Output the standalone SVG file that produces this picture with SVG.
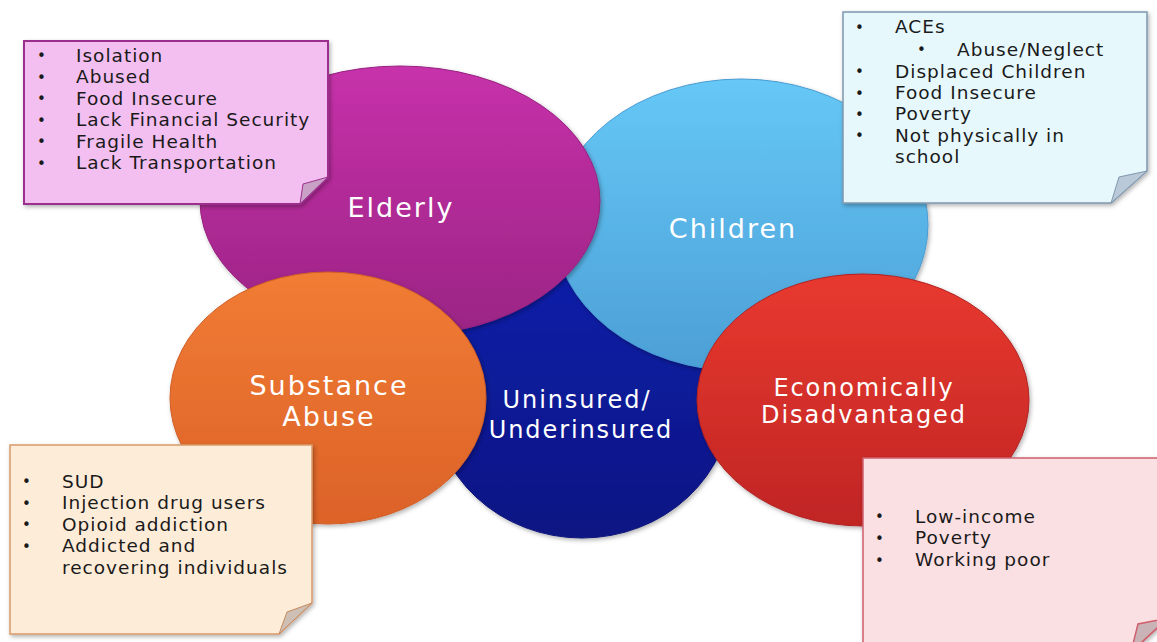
<svg xmlns="http://www.w3.org/2000/svg" width="1157" height="642" viewBox="0 0 1157 642">
<defs>
  <linearGradient id="gNavy" x1="0" y1="0" x2="0" y2="1">
    <stop offset="0" stop-color="#0e1eaa"/><stop offset="1" stop-color="#0a1682"/>
  </linearGradient>
  <linearGradient id="gChild" x1="0" y1="0" x2="0" y2="1">
    <stop offset="0" stop-color="#66c8f6"/><stop offset="1" stop-color="#4c9fd6"/>
  </linearGradient>
  <linearGradient id="gElder" x1="0" y1="0" x2="0" y2="1">
    <stop offset="0" stop-color="#c731aa"/><stop offset="1" stop-color="#9a2484"/>
  </linearGradient>
  <linearGradient id="gOrange" x1="0" y1="0" x2="0" y2="1">
    <stop offset="0" stop-color="#f17c34"/><stop offset="1" stop-color="#dc6228"/>
  </linearGradient>
  <linearGradient id="gRed" x1="0" y1="0" x2="0" y2="1">
    <stop offset="0" stop-color="#e8392f"/><stop offset="1" stop-color="#c02524"/>
  </linearGradient>
  <filter id="shadow" x="-10%" y="-10%" width="125%" height="125%">
    <feDropShadow dx="1.5" dy="2" stdDeviation="2" flood-color="#000" flood-opacity="0.3"/>
  </filter>
</defs>
<style>
  .lbl { font-family: "DejaVu Sans", Verdana, sans-serif; fill: #ffffff; text-anchor: middle; }
  .big { font-size: 27px; letter-spacing: 2px; }
  .mid { font-size: 24px; letter-spacing: 1.9px; }
  .note text { font-family: "DejaVu Sans", Verdana, sans-serif; font-size: 18.5px; letter-spacing: 1px; fill: #1a1a1a; }
  .note text.b { font-size: 15px; letter-spacing: 0; }
  .blob { stroke-width: 1; }
</style>
<rect width="1157" height="642" fill="#ffffff"/>
<g id="connectors"></g>
<g id="uninsured">
  <ellipse class="blob" cx="582" cy="398" rx="150" ry="140" fill="url(#gNavy)" stroke="#0a137a" filter="url(#shadow)"/>
</g>
<g id="children">
  <ellipse class="blob" cx="741" cy="225" rx="187" ry="146" fill="url(#gChild)" stroke="#4a9cd2" filter="url(#shadow)"/>
  <text class="lbl big" x="733" y="238">Children</text>
</g>
<g id="elderly">
  <ellipse class="blob" cx="400" cy="201" rx="200" ry="135" fill="url(#gElder)" stroke="#96237f" filter="url(#shadow)"/>
  <text class="lbl big" x="401" y="217">Elderly</text>
</g>
<g id="uninsured-label">
  <text class="lbl mid" x="577" y="408">Uninsured/</text>
  <text class="lbl mid" x="581" y="438">Underinsured</text>
</g>
<g id="substance">
  <ellipse class="blob" cx="328" cy="398" rx="158" ry="126" fill="url(#gOrange)" stroke="#d05e26" filter="url(#shadow)"/>
  <text class="lbl big" x="329" y="395">Substance</text>
  <text class="lbl big" x="329" y="426">Abuse</text>
</g>
<g id="economic">
  <ellipse class="blob" cx="863" cy="400" rx="166" ry="126" fill="url(#gRed)" stroke="#b02222" filter="url(#shadow)"/>
  <text class="lbl mid" x="864" y="396">Economically</text>
  <text class="lbl mid" x="864" y="423">Disadvantaged</text>
</g>
<g id="note-elderly" class="note">
  <path d="M24,41 H328 V177 L300,204 H24 Z" fill="#f3bff0" stroke="#9c2f8e" stroke-width="2" filter="url(#shadow)"/>
  <path d="M328,177 L303,184 L300,204 Z" fill="#c9a0c6" stroke="#9c2f8e" stroke-width="1"/>
  <text class="b" x="37" y="61">•</text><text x="76" y="61.5">Isolation</text>
  <text class="b" x="37" y="83">•</text><text x="76" y="83">Abused</text>
  <text class="b" x="37" y="104">•</text><text x="76" y="104.6">Food Insecure</text>
  <text class="b" x="37" y="126">•</text><text x="76" y="126.2">Lack Financial Security</text>
  <text class="b" x="37" y="147">•</text><text x="76" y="147.8">Fragile Health</text>
  <text class="b" x="37" y="169">•</text><text x="76" y="169.4">Lack Transportation</text>
</g>
<g id="note-children" class="note">
  <path d="M843,12 H1147 V171 L1111,203 H843 Z" fill="#e6f8fc" stroke="#7f97ad" stroke-width="1.5" filter="url(#shadow)"/>
  <path d="M1147,171 L1119,177 L1111,203 Z" fill="#b9c9d8" stroke="#7f97ad" stroke-width="1"/>
  <text class="b" x="855" y="33">•</text><text x="895" y="33.3">ACEs</text>
  <text class="b" x="917" y="55">•</text><text x="957" y="55.7">Abuse/Neglect</text>
  <text class="b" x="855" y="77">•</text><text x="895" y="77.7">Displaced Children</text>
  <text class="b" x="855" y="99">•</text><text x="895" y="99">Food Insecure</text>
  <text class="b" x="855" y="120">•</text><text x="895" y="120.3">Poverty</text>
  <text class="b" x="855" y="141">•</text><text x="895" y="141.7">Not physically in</text>
  <text x="895" y="163">school</text>
</g>
<g id="note-substance" class="note">
  <path d="M10,445 H312 V603 L279,634 H10 Z" fill="#fdecd8" stroke="#d9996a" stroke-width="1.5" filter="url(#shadow)"/>
  <path d="M312,603 L287,612 L279,634 Z" fill="#cdbfb3" stroke="#c98a5e" stroke-width="1"/>
  <text class="b" x="22" y="487">•</text><text x="62" y="487.7">SUD</text>
  <text class="b" x="22" y="509">•</text><text x="62" y="509.3">Injection drug users</text>
  <text class="b" x="22" y="530">•</text><text x="62" y="530.7">Opioid addiction</text>
  <text class="b" x="22" y="552">•</text><text x="62" y="552">Addicted and</text>
  <text x="62" y="573.5">recovering individuals</text>
</g>
<g id="note-economic" class="note">
  <path d="M863,458 H1168 V618 L1131,652 H863 Z" fill="#fbe0e3" stroke="#cf5f6c" stroke-width="1.5" filter="url(#shadow)"/>
  <path d="M1168,618 L1138,624 L1131,652 Z" fill="#c9b3b6" stroke="#cf5f6c" stroke-width="1.5"/>
  <text class="b" x="875" y="522">•</text><text x="915" y="522.7">Low-income</text>
  <text class="b" x="875" y="544">•</text><text x="915" y="544.3">Poverty</text>
  <text class="b" x="875" y="566">•</text><text x="915" y="566">Working poor</text>
</g>
</svg>
